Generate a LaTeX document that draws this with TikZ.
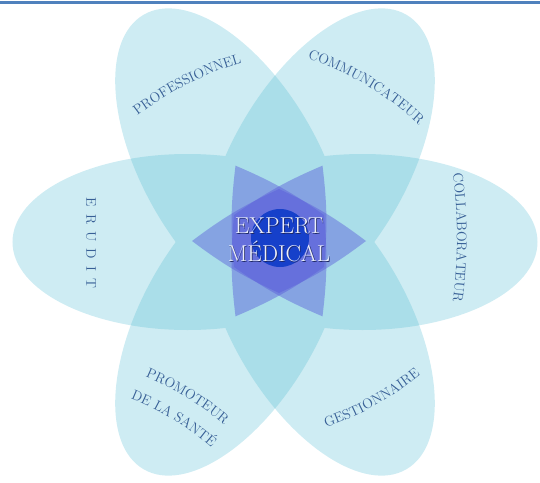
\documentclass[tikz,border=0pt]{standalone}
\usepackage{xcolor}
\usepackage{tikz}
\usetikzlibrary{decorations.text}
\definecolor{petallight}{RGB}{206,236,243}
\definecolor{petaldeep}{RGB}{170,222,233}
\definecolor{starblue}{RGB}{90,92,218}
\definecolor{coreblue}{RGB}{22,64,202}
\definecolor{labelink}{RGB}{55,95,150}
\definecolor{coreshade}{RGB}{30,40,100}
\definecolor{coretext}{RGB}{236,239,250}
\definecolor{topbar}{RGB}{79,129,189}
\newcommand{\labelfont}{\fontsize{14}{16}\selectfont}
\newcommand{\corefont}{\fontsize{23}{28}\selectfont}

\begin{document}
\begin{tikzpicture}[x=1pt, y=1pt,
    petal label/.style={decorate, decoration={text along path, text align=center, text color=labelink}},
    core text/.style={font=\corefont, align=center}]
  \useasboundingbox (-275,-240) rectangle (265,242);
  \coordinate (hub) at (4,1);

  % six petals, then every overlap of two in a deeper tint
  \foreach \i in {0,...,5}
    \fill[petallight, rotate=60*\i] (87.5,0) ellipse[x radius=175pt, y radius=88pt];
  \foreach \i in {0,...,5}
    \foreach \k in {1,2,3} {
      \begin{scope}
        \clip[rotate=60*\i] (87.5,0) ellipse[x radius=175pt, y radius=88pt];
        \fill[petaldeep, rotate=60*(\i+\k)] (87.5,0) ellipse[x radius=175pt, y radius=88pt];
      \end{scope}
    }

  % star of three rhombi and the core
  \foreach \i in {0,1,2}
    \fill[starblue, fill opacity=0.45, shift={(hub)}, rotate=60*\i]
      (-87,0) to[bend left=6] (0,52) to[bend left=6] (87,0)
      to[bend left=6] (0,-52) to[bend left=6] cycle;
  \fill[coreblue] (5,4) circle[radius=29pt];

  % top rule
  \coordinate (barwest) at (-275,239);
  \coordinate (bareast) at (265,239);
  \draw[topbar, line width=3pt] (barwest) -- (bareast);

  % labels on arcs
  \coordinate (profarc) at (54,-123.2);
  \coordinate (comarc) at (-66.7,-107.7);
  \coordinate (gesarc) at (-53.7,114.7);
  \coordinate (proarc) at (-249.3,-418.2);
  \coordinate (colarc) at (-318,4.5);
  \path[petal label, decoration={text={|\labelfont|PROFESSIONNEL}}]
    ([shift={(135:314.5pt)}]profarc) arc[start angle=135, end angle=98.6, radius=314.5pt];
  \path[petal label, decoration={text={|\labelfont|COMMUNICATEUR}}]
    ([shift={(85:308pt)}]comarc) arc[start angle=85, end angle=33, radius=308pt];
  \path[petal label, decoration={text={|\labelfont|COLLABORATEUR}}]
    ([shift={(15:500pt)}]colarc) arc[start angle=15, end angle=-15, radius=500pt];
  \path[petal label, decoration={text={|\labelfont|GESTIONNAIRE}}]
    ([shift={(-85:318pt)}]gesarc) arc[start angle=-85, end angle=-37, radius=318pt];
  \path[petal label, decoration={text={|\labelfont|PROMOTEUR}}]
    ([shift={(80:308pt)}]proarc) arc[start angle=80, end angle=37, radius=308pt];
  \path[petal label, decoration={text={|\labelfont|DE LA SANTÉ}}]
    ([shift={(80:282pt)}]proarc) arc[start angle=80, end angle=37, radius=282pt];
  \node[rotate=-90, font=\labelfont, text=labelink] (erudit) at (-184,-1)
    {E\enspace R\enspace U\enspace D\enspace I\enspace T};

  \node[core text, text=coreshade] (coreshadow) at (4.8,1.2) {EXPERT\\MÉDICAL};
  \node[core text, text=coretext] (core) at (4,2) {EXPERT\\MÉDICAL};
\end{tikzpicture}
\end{document}
